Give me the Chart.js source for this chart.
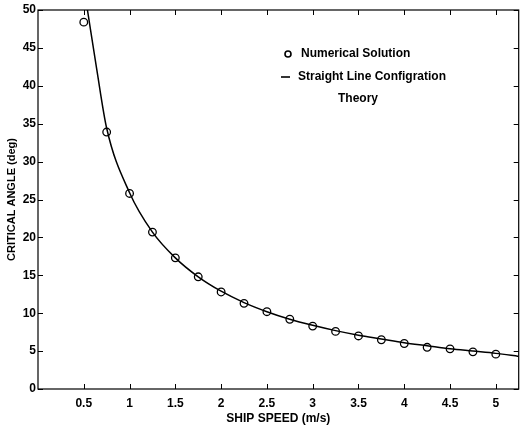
<!DOCTYPE html>
<html>
<head>
<meta charset="utf-8">
<script src="https://cdn.jsdelivr.net/npm/chart.js@4/dist/chart.umd.min.js"></script>
<style>
html,body{margin:0;padding:0;background:#fff;}
#wrap{width:524px;height:432px;}
</style>
</head>
<body>
<div id="wrap"><canvas id="c" width="524" height="432"></canvas></div>
<script>
// Numerical solution (circles)
const numSpeed = [0.5, 0.75, 1, 1.25, 1.5, 1.75, 2, 2.25, 2.5, 2.75, 3, 3.25, 3.5, 3.75, 4, 4.25, 4.5, 4.75, 5];
const numAngle = [48.4, 33.9, 25.8, 20.7, 17.3, 14.8, 12.8, 11.3, 10.2, 9.2, 8.3, 7.6, 7.0, 6.5, 6.0, 5.5, 5.3, 4.9, 4.6];
// Straight line configuration theory (solid curve)
const thSpeed = [0.54, 0.64, 0.75, 1, 1.25, 1.5, 1.75, 2, 2.25, 2.5, 2.75, 3, 3.25, 3.5, 3.75, 4, 4.25, 4.5, 4.75, 5, 5.25];
const thAngle = [50, 42.3, 34.4, 25.9, 20.7, 17.3, 14.8, 12.9, 11.4, 10.2, 9.2, 8.4, 7.7, 7.1, 6.6, 6.1, 5.7, 5.3, 5.0, 4.7, 4.3];
// Axis ticks
const xTicks = [0.5, 1, 1.5, 2, 2.5, 3, 3.5, 4, 4.5, 5];
const yTicks = [0, 5, 10, 15, 20, 25, 30, 35, 40, 45, 50];
const legendLines = ["Numerical Solution", "Straight Line Configration", "Theory"];
const xTitle = "SHIP SPEED (m/s)";
const yTitle = "CRITICAL ANGLE (deg)";

const FONT = "'Liberation Sans', Arial, sans-serif";

const framePlugin = {
  id: 'frame',
  afterDraw(chart) {
    const ctx = chart.ctx, a = chart.chartArea;
    const xs = chart.scales.x, ys = chart.scales.y;
    ctx.save();
    ctx.strokeStyle = '#000';
    ctx.lineWidth = 1.2;
    ctx.strokeRect(a.left, a.top, a.right - a.left, a.bottom - a.top);
    ctx.lineWidth = 1;
    ctx.beginPath();
    xTicks.forEach(v => {
      const px = Math.round(xs.getPixelForValue(v)) + 0.5;
      ctx.moveTo(px, a.bottom); ctx.lineTo(px, a.bottom - 5);
      ctx.moveTo(px, a.top); ctx.lineTo(px, a.top + 5);
    });
    yTicks.forEach(v => {
      const py = Math.round(ys.getPixelForValue(v)) + 0.5;
      ctx.moveTo(a.left, py); ctx.lineTo(a.left + 5, py);
      ctx.moveTo(a.right, py); ctx.lineTo(a.right - 5, py);
    });
    ctx.stroke();
    // legend text
    ctx.fillStyle = '#000';
    ctx.font = 'bold 12px ' + FONT;
    ctx.textBaseline = 'middle';
    ctx.textAlign = 'left';
    ctx.fillText(legendLines[0], 301, 54);
    ctx.fillText(legendLines[1], 298, 77);
    ctx.fillText(legendLines[2], 338, 99);
    ctx.beginPath();
    ctx.lineWidth = 1.6;
    ctx.arc(288, 54, 3, 0, Math.PI * 2);
    ctx.stroke();
    ctx.beginPath();
    ctx.moveTo(281, 77); ctx.lineTo(290, 77);
    ctx.stroke();
    ctx.restore();
  }
};

new Chart(document.getElementById('c'), {
  type: 'scatter',
  data: {
    datasets: [
      {
        label: 'Straight Line Configration Theory',
        data: thSpeed.map((x, i) => ({x: x, y: thAngle[i]})),
        showLine: true,
        borderColor: '#000',
        borderWidth: 1.5,
        pointRadius: 0,
        cubicInterpolationMode: 'monotone',
        fill: false
      },
      {
        label: 'Numerical Solution',
        data: numSpeed.map((x, i) => ({x: x, y: numAngle[i]})),
        showLine: false,
        borderColor: '#000',
        backgroundColor: 'rgba(0,0,0,0)',
        borderWidth: 1.3,
        pointRadius: 3.8,
        pointStyle: 'circle'
      }
    ]
  },
  options: {
    responsive: false,
    animation: false,
    layout: { padding: { top: 10, right: 4, left: 0, bottom: 0 } },
    plugins: { legend: { display: false }, tooltip: { enabled: false } },
    scales: {
      x: {
        type: 'linear',
        min: 0, max: 5.25,
        afterBuildTicks: s => { s.ticks = xTicks.map(v => ({value: v})); },
        afterFit: s => { s.height = 43; },
        grid: { display: false, drawTicks: false },
        border: { display: false },
        ticks: { color: '#000', font: { family: FONT, size: 12, weight: 'bold' }, padding: 7, maxRotation: 0,
                 callback: v => String(v) },
        title: { display: true, text: xTitle, color: '#000', font: { family: FONT, size: 12, weight: 'bold' }, padding: { top: 0, bottom: 6 } }
      },
      y: {
        type: 'linear',
        min: 0, max: 50,
        afterBuildTicks: s => { s.ticks = yTicks.map(v => ({value: v})); },
        afterFit: s => { s.width = 38; },
        grid: { display: false, drawTicks: false },
        border: { display: false },
        ticks: { color: '#000', font: { family: FONT, size: 12, weight: 'bold' }, padding: 2,
                 callback: v => String(v) },
        title: { display: true, text: yTitle, color: '#000', font: { family: FONT, size: 11, weight: 'bold' }, padding: { top: 5, bottom: 0 } }
      }
    }
  },
  plugins: [framePlugin]
});
</script>
</body>
</html>
